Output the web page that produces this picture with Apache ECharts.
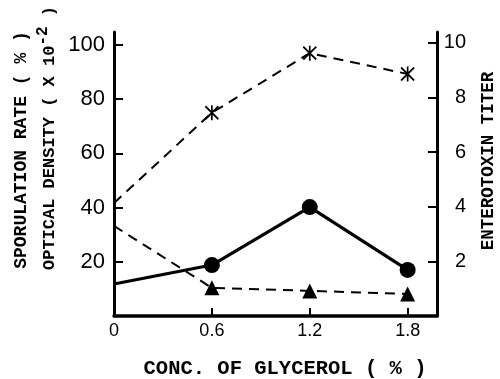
<!DOCTYPE html>
<html>
<head>
<meta charset="utf-8">
<script src="https://cdn.jsdelivr.net/npm/echarts@6/dist/echarts.min.js"></script>
<style>html,body{margin:0;padding:0;background:#fff}#c{width:500px;height:379px}</style>
</head>
<body>
<div id="c"></div>
<script>
const glycerol = [0, 0.6, 1.2, 1.8];
const sporulationRate = [41.7, 75, 97, 89.3];
const opticalDensity = [11.8, 18.8, 40.2, 17];
const enterotoxinTiter = [3.3, 1.03, 0.92, 0.81];
const xTickValues = [0, 0.6, 1.2, 1.8];
const leftTickValues = [20, 40, 60, 80, 100];
const rightTickValues = [2, 4, 6, 8, 10];
const xTitle = 'CONC. OF GLYCEROL ( % )';
const leftTitle1 = 'SPORULATION RATE ( % )';
const leftTitle2 = 'OPTICAL DENSITY ( X 10{sup|-2} )';
const rightTitle = 'ENTEROTOXIN TITER';

const mono = 'Liberation Mono';
const sans = 'Liberation Sans';

function pts(vals) {
  return vals.map((v, i) => ({ value: [glycerol[i], v], symbol: i === 0 ? 'none' : undefined }));
}

const chart = echarts.init(document.getElementById('c'), null, { renderer: 'canvas' });
const axisLine = { show: true, lineStyle: { color: '#000', width: 3 } };
chart.setOption({
  backgroundColor: '#fff',
  animation: false,
  grid: { left: 114, right: 63, top: 32, bottom: 63 },
  xAxis: {
    type: 'value', min: 0, max: 1.98,
    axisLine: { show: true, onZero: false, lineStyle: { color: '#000', width: 3.5 } },
    axisTick: { show: true, inside: true, length: 8, lineStyle: { color: '#000', width: 2 }, customValues: [0.6, 1.2, 1.8] },
    axisLabel: { customValues: xTickValues, color: '#000', fontFamily: sans, fontSize: 18, margin: 6,
      formatter: v => String(v) },
    splitLine: { show: false }
  },
  yAxis: [
    {
      type: 'value', min: 0, max: 104.8, position: 'left',
      axisLine: axisLine,
      axisTick: { show: true, inside: true, length: 9, lineStyle: { color: '#000', width: 2 }, customValues: leftTickValues },
      axisLabel: { customValues: leftTickValues, color: '#000', fontFamily: sans, fontSize: 22, margin: 9 },
      splitLine: { show: false }
    },
    {
      type: 'value', min: 0, max: 10.4, position: 'right',
      axisLine: axisLine,
      axisTick: { show: true, inside: true, length: 9, lineStyle: { color: '#000', width: 2 }, customValues: rightTickValues },
      axisLabel: { customValues: rightTickValues, color: '#000', fontFamily: sans, fontSize: 20, margin: 29, align: 'right' },
      splitLine: { show: false }
    }
  ],
  series: [
    {
      type: 'line', yAxisIndex: 0, data: pts(sporulationRate),
      symbol: 'path://M0,0L10,12M10,0L0,12M5,-1L5,13', symbolSize: [13, 15],
      itemStyle: { color: '#000', borderColor: '#000', borderWidth: 1.8 },
      lineStyle: { color: '#000', width: 2, type: [10, 7] }, z: 3
    },
    {
      type: 'line', yAxisIndex: 0, data: pts(opticalDensity),
      symbol: 'circle', symbolSize: 16,
      itemStyle: { color: '#000', borderWidth: 0 },
      lineStyle: { color: '#000', width: 3.2, type: 'solid' }, z: 4
    },
    {
      type: 'line', yAxisIndex: 1, data: pts(enterotoxinTiter),
      symbol: 'triangle', symbolSize: [15, 15],
      itemStyle: { color: '#000', borderWidth: 0 },
      lineStyle: { color: '#000', width: 2, type: [10, 7] }, z: 3
    }
  ],
  graphic: [
    { type: 'text', x: 285, y: 369, style: { text: xTitle, fontFamily: mono, fontSize: 20.5, fontWeight: 'bold', fill: '#000', textAlign: 'center', textVerticalAlign: 'middle' } },
    { type: 'text', x: 21, y: 150, rotation: Math.PI / 2, style: { text: leftTitle1, fontFamily: mono, fontSize: 18, fontWeight: 'bold', fill: '#000', textAlign: 'center', textVerticalAlign: 'middle' } },
    { type: 'text', x: 50, y: 138, rotation: Math.PI / 2, style: { text: leftTitle2, fontFamily: mono, fontSize: 17, fontWeight: 'bold', fill: '#000', textAlign: 'center', textVerticalAlign: 'middle',
      rich: { sup: { fontFamily: mono, fontSize: 16, fontWeight: 'bold', fill: '#000', padding: [0, 0, 14, 0] } } } },
    { type: 'text', x: 489, y: 161, rotation: Math.PI / 2, style: { text: rightTitle, fontFamily: mono, fontSize: 17.5, fontWeight: 'bold', fill: '#000', textAlign: 'center', textVerticalAlign: 'middle' } }
  ]
});
</script>
</body>
</html>
